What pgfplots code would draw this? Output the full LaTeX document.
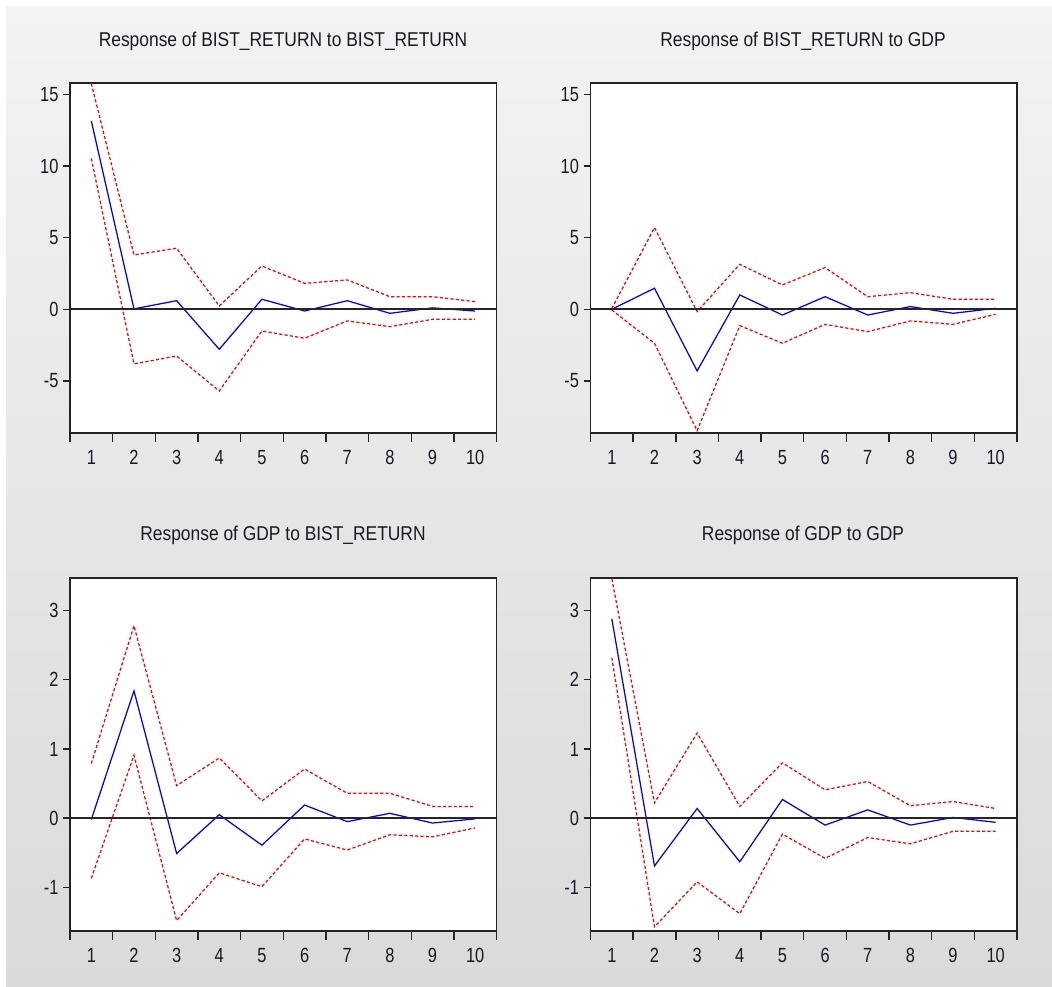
\documentclass[border=0pt]{standalone}
\usepackage{fontspec}
\setmainfont{Liberation Sans}[FakeStretch=0.8]
\newfontfamily\titlefont{Liberation Sans}[FakeStretch=0.87]
\usepackage{pgfplots}
\usepackage{pgfplotstable}
\pgfplotsset{compat=1.18}
\usetikzlibrary{shadings}

\definecolor{bgtop}{RGB}{243,243,243}
\definecolor{bgbot}{RGB}{218,218,218}
\definecolor{frame}{RGB}{35,35,35}
\definecolor{txt}{RGB}{25,25,35}

\pgfplotstableread{
x resp up lo
1 13.14 15.75 10.53
2 0.03 3.79 -3.81
3 0.60 4.26 -3.26
4 -2.79 0.23 -5.70
5 0.70 3.02 -1.51
6 -0.12 1.81 -2.02
7 0.60 2.05 -0.81
8 -0.28 0.88 -1.21
9 0.10 0.88 -0.70
10 -0.12 0.53 -0.70
}\tabBB
\pgfplotstableread{
x resp up lo
1 0.00 0.05 -0.05
2 1.47 5.70 -2.37
3 -4.30 -0.16 -8.47
4 1.00 3.14 -1.14
5 -0.40 1.70 -2.37
6 0.88 2.91 -1.05
7 -0.40 0.88 -1.56
8 0.19 1.16 -0.81
9 -0.28 0.70 -1.05
10 0.07 0.70 -0.35
}\tabBG
\pgfplotstableread{
x resp up lo
1 -0.02 0.79 -0.87
2 1.84 2.78 0.91
3 -0.51 0.47 -1.48
4 0.05 0.87 -0.79
5 -0.39 0.25 -0.99
6 0.19 0.71 -0.30
7 -0.05 0.36 -0.46
8 0.07 0.36 -0.24
9 -0.07 0.17 -0.27
10 -0.01 0.17 -0.14
}\tabGB
\pgfplotstableread{
x resp up lo
1 2.88 3.46 2.32
2 -0.69 0.22 -1.57
3 0.14 1.23 -0.92
4 -0.63 0.17 -1.38
5 0.27 0.80 -0.23
6 -0.10 0.41 -0.58
7 0.12 0.53 -0.28
8 -0.10 0.18 -0.37
9 0.01 0.24 -0.19
10 -0.06 0.14 -0.19
}\tabGG

\pgfplotsset{
  irf/.style={
    scale only axis,
    width=426.5pt,
    xmin=0.5, xmax=10.5,
    xtick={1,...,10},
    minor xtick={0.5,1.5,...,10.5},
    major x tick style={draw=none},
    minor x tick style={frame, line width=1.4pt},
    minor tick length=9pt,
    major tick length=7pt,
    y tick style={frame, line width=1.4pt},
    tick align=outside,
    xtick pos=bottom, ytick pos=left,
    axis line style={frame, line width=1.7pt},
    axis background/.style={fill=white},
    tick label style={font=\fontsize{20.5}{24}\selectfont, text=txt},
    xticklabel style={yshift=-7pt},
    yticklabel style={xshift=-1pt},
    /pgf/number format/assume math mode=true,
    clip=true,
  },
  zero/.style={black!85, line width=1.8pt, forget plot},
  band/.style={red, line width=1.25pt, dash pattern=on 3.2pt off 2.2pt},
  mid/.style={blue, line width=1.25pt},
}

\begin{document}
\begin{tikzpicture}[x=1pt,y=1pt]
\shade[top color=bgtop, bottom color=bgbot] (0,0) rectangle (1052,987);
\fill[white] (0,0) rectangle (6,987);
\fill[white] (0,981) rectangle (1052,987);

% Top-left
\begin{axis}[irf, at={(70pt,554pt)}, anchor=south west, height=350pt,
  ymin=-8.63, ymax=15.79, ytick={-5,0,5,10,15}, yticklabels={-5,0,5,10,15}]
\addplot[band] table[x=x,y=up]{\tabBB};
\addplot[band] table[x=x,y=lo]{\tabBB};
\addplot[mid] table[x=x,y=resp]{\tabBB};
\addplot[zero] coordinates {(0.5,0) (10.5,0)};
\end{axis}

% Top-right
\begin{axis}[irf, at={(590.5pt,554pt)}, anchor=south west, height=350pt,
  ymin=-8.63, ymax=15.79, ytick={-5,0,5,10,15}, yticklabels={-5,0,5,10,15}]
\addplot[band] table[x=x,y=up]{\tabBG};
\addplot[band] table[x=x,y=lo]{\tabBG};
\addplot[mid] table[x=x,y=resp]{\tabBG};
\addplot[zero] coordinates {(0.5,0) (10.5,0)};
\end{axis}

% Bottom-left
\begin{axis}[irf, at={(70pt,56pt)}, anchor=south west, height=353pt,
  ymin=-1.63, ymax=3.47, ytick={-1,0,1,2,3}, yticklabels={-1,0,1,2,3}]
\addplot[band] table[x=x,y=up]{\tabGB};
\addplot[band] table[x=x,y=lo]{\tabGB};
\addplot[mid] table[x=x,y=resp]{\tabGB};
\addplot[zero] coordinates {(0.5,0) (10.5,0)};
\end{axis}

% Bottom-right
\begin{axis}[irf, at={(590.5pt,56pt)}, anchor=south west, height=353pt,
  ymin=-1.63, ymax=3.47, ytick={-1,0,1,2,3}, yticklabels={-1,0,1,2,3}]
\addplot[band] table[x=x,y=up]{\tabGG};
\addplot[band] table[x=x,y=lo]{\tabGG};
\addplot[mid] table[x=x,y=resp]{\tabGG};
\addplot[zero] coordinates {(0.5,0) (10.5,0)};
\end{axis}

\node[font=\titlefont\fontsize{20}{24}\selectfont, text=txt] at (283,946) {Response of BIST\_RETURN to BIST\_RETURN};
\node[font=\titlefont\fontsize{20}{24}\selectfont, text=txt] at (803,946) {Response of BIST\_RETURN to GDP};
\node[font=\titlefont\fontsize{20}{24}\selectfont, text=txt] at (283,452) {Response of GDP to BIST\_RETURN};
\node[font=\titlefont\fontsize{20}{24}\selectfont, text=txt] at (803,452) {Response of GDP to GDP};
\end{tikzpicture}
\end{document}
